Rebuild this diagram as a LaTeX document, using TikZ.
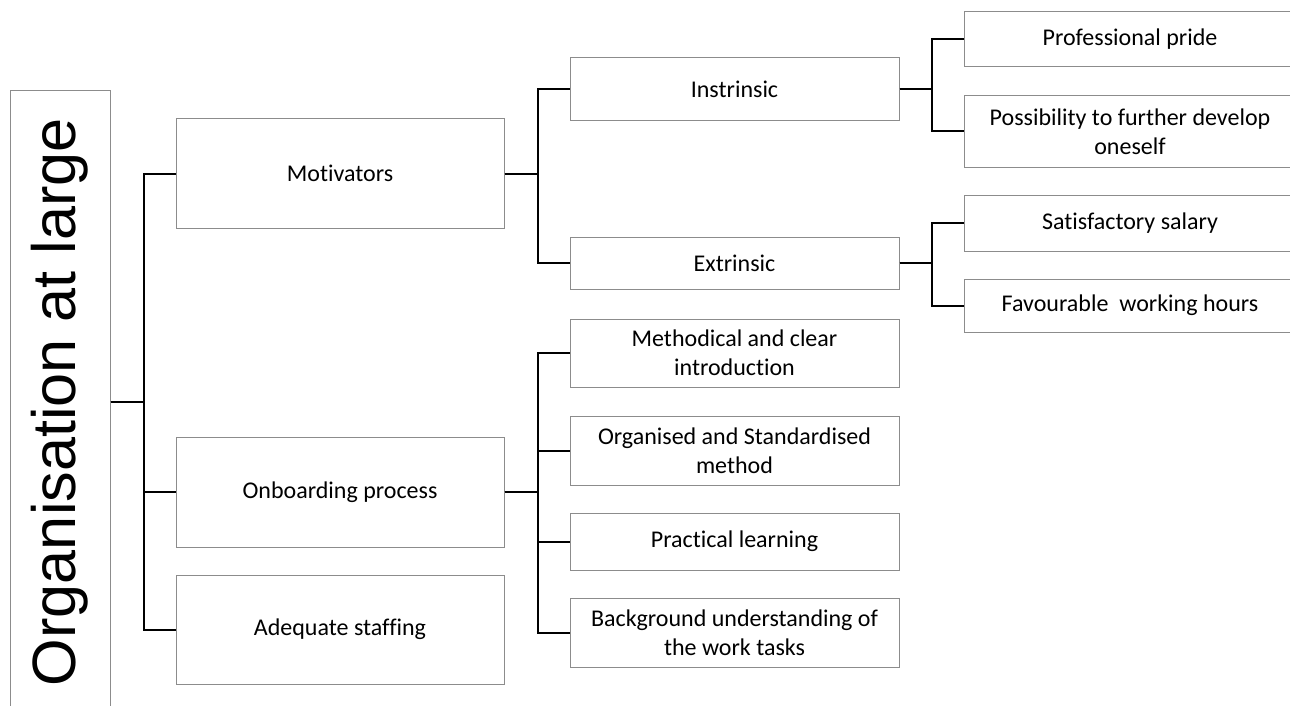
\documentclass[tikz,border=0pt]{standalone}
\usepackage{fontspec}
\setmainfont{Carlito}[Ligatures={NoCommon}]
\newfontfamily\rootfont{Liberation Sans}
\usepackage{tikz}
\usetikzlibrary{positioning,calc}
\tikzset{
	%
	box/.style={
		rectangle, draw=black!45, line width=0.5pt, fill=white,
		inner sep=0pt, align=center, font=\fontsize{12}{14.6}\selectfont
	},
	%
	midbox/.style={
		box, minimum width=164pt
	},
	%
	leafbox/.style={
		box, minimum width=164.5pt
	},
	%
	link/.style={
		draw=black, line width=1pt
	}
}

\begin{document}
\begin{tikzpicture}[x=0.5pt,y=-0.5pt]
\useasboundingbox (0,0) rectangle (1290,706);
%boxes
\node (root)[box, minimum width=50pt, minimum height=311pt] at (60,402)
	{\rotatebox{90}{\rootfont\fontsize{30.6}{36}\selectfont Organisation at large}};

\node (motiv)[midbox, minimum height=54.5pt] at (340,173.5) {Motivators};
\node (onboard)[midbox, minimum height=55pt] at (340,492) {Onboarding process};
\node (staff)[midbox, minimum height=54.5pt] at (340,629.5) {Adequate staffing};

\node (intr)[leafbox, minimum height=31.5pt] at (734.5,89.5) {Instrinsic};
\node (extr)[leafbox, minimum height=26pt] at (734.5,263) {Extrinsic};
\node (meth)[leafbox, minimum height=34pt] at (734.5,353) {Methodical and clear\\introduction};
\node (organ)[leafbox, minimum height=34.5pt] at (734.5,450.5) {Organised and Standardised\\method};
\node (pract)[leafbox, minimum height=28.5pt] at (734.5,541.5) {Practical learning};
\node (backg)[leafbox, minimum height=34.5pt] at (734.5,632.5) {Background understanding of\\the work tasks};

\node (pride)[box, minimum width=166pt, minimum height=27.5pt] at (1130,39.5) {Professional pride};
\node (develop)[box, minimum width=166pt, minimum height=35.5pt] at (1130,131.5) {Possibility to further develop\\oneself};
\node (salary)[box, minimum width=166pt, minimum height=28pt] at (1130,223) {Satisfactory salary};
\node (hours)[box, minimum width=166pt, minimum height=26.5pt] at (1130,305.5) {Favourable\ \ working hours};

%lines
\draw[link] (root.east) -- ++(33,0) |- (motiv.west);
\draw[link] (root.east) -- ++(33,0) |- (onboard.west);
\draw[link] (root.east) -- ++(33,0) |- (staff.west);

\draw[link] (motiv.east) -- ++(33,0) |- (intr.west);
\draw[link] (motiv.east) -- ++(33,0) |- (extr.west);

\draw[link] (onboard.east) -- ++(33,0) |- (meth.west);
\draw[link] (onboard.east) -- ++(33,0) |- (organ.west);
\draw[link] (onboard.east) -- ++(33,0) |- (pract.west);
\draw[link] (onboard.east) -- ++(33,0) |- (backg.west);

\draw[link] (intr.east) -- ++(32,0) |- (pride.west);
\draw[link] (intr.east) -- ++(32,0) |- (develop.west);

\draw[link] (extr.east) -- ++(32,0) |- (salary.west);
\draw[link] (extr.east) -- ++(32,0) |- (hours.west);
\end{tikzpicture}
\end{document}
